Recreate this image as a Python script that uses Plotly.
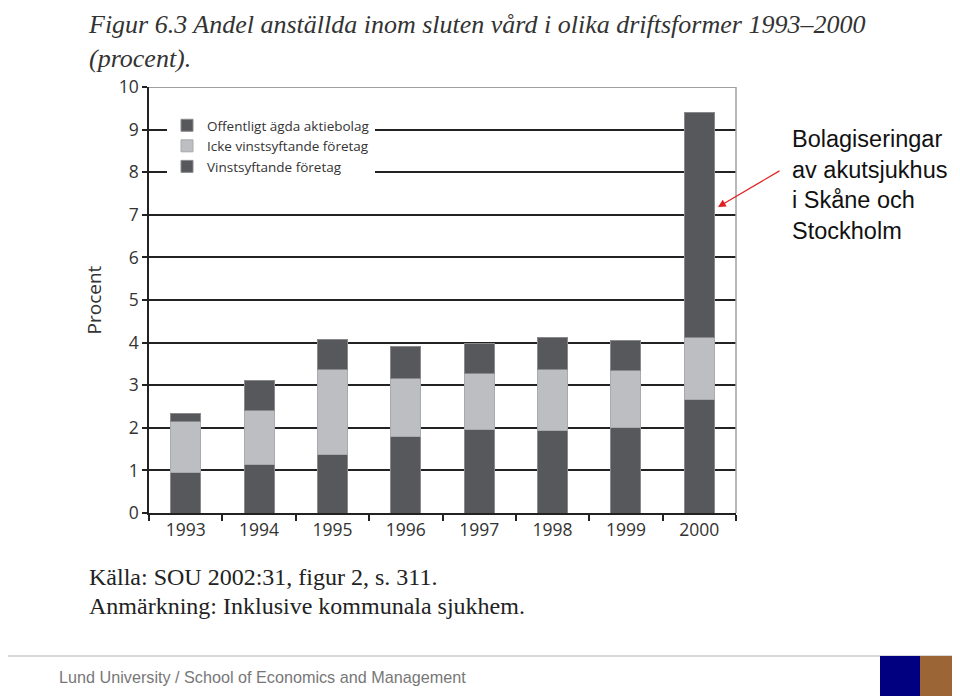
import plotly.graph_objects as go

years = ["1993", "1994", "1995", "1996", "1997", "1998", "1999", "2000"]
vinst = [0.95, 1.13, 1.38, 1.79, 1.97, 1.93, 2.00, 2.67]
icke_vinst = [1.20, 1.27, 2.00, 1.37, 1.31, 1.43, 1.35, 1.45]
offentligt_ab = [0.18, 0.71, 0.69, 0.76, 0.70, 0.76, 0.71, 5.29]
y_ticks = list(range(0, 11))

DARK = "#57585b"
LIGHT = "#bdbec1"

OFF = 8  # page body margin
W, H = 960 - OFF, 696 - OFF
# plot area in screen pixels
L, R, T, B = 149, 736, 87, 513


def xp(px):
    return (px - L) / (R - L)


def yp(py):
    return (B - py) / (B - T)


fig = go.Figure()
fig.add_trace(go.Bar(x=years, y=vinst, name="Vinstsyftande företag",
                     marker=dict(color=DARK, line=dict(color="#8a8a8c", width=1))))
fig.add_trace(go.Bar(x=years, y=icke_vinst, name="Icke vinstsyftande företag",
                     marker=dict(color=LIGHT, line=dict(color="#a9aaad", width=1))))
fig.add_trace(go.Bar(x=years, y=offentligt_ab, name="Offentligt ägda aktiebolag",
                     marker=dict(color=DARK, line=dict(color="#8a8a8c", width=1))))

tick_font = dict(family="Open Sans, DejaVu Sans, sans-serif", size=17.5, color="#333333")

fig.update_layout(
    width=W, height=H,
    margin=dict(l=L - OFF, r=W - (R - OFF), t=T - OFF, b=H - (B - OFF), pad=0),
    paper_bgcolor="white", plot_bgcolor="white",
    barmode="stack", bargap=0.59,
    showlegend=True,
    legend=dict(x=xp(167), y=yp(110), xanchor="left", yanchor="top",
                traceorder="reversed", bgcolor="white",
                font=dict(family="Open Sans, DejaVu Sans, sans-serif", size=13.5, color="#333333"),
                itemwidth=30, tracegroupgap=0),
    xaxis=dict(showline=True, linecolor="#222222", linewidth=1.5,
               ticks="outside", tickson="boundaries", ticklen=6, tickcolor="#222222",
               tickwidth=1.5, tickfont=tick_font, showgrid=False),
    yaxis=dict(range=[0, 10], tickvals=y_ticks, showline=True, linecolor="#222222",
               linewidth=1.5, ticks="outside", ticklen=5, tickcolor="#222222", tickwidth=1.5,
               showgrid=True, gridcolor="#222222", gridwidth=1.5, zeroline=False,
               tickfont=tick_font,
               title=dict(text="Procent",
                          font=dict(family="Open Sans, DejaVu Sans, sans-serif", size=19,
                                    color="#333333"),
                          standoff=12)),
    font=dict(family="Liberation Sans, Arial, sans-serif"),
)

shapes = [
    # top border at 10 (gray)
    dict(type="line", xref="paper", yref="y", x0=0, x1=1, y0=10, y1=10,
         line=dict(color="#a0a0a0", width=2), layer="above"),
    # right border (gray)
    dict(type="line", xref="paper", yref="paper", x0=1, x1=1, y0=0, y1=1,
         line=dict(color="#a0a0a0", width=1.5), layer="above"),
    # footer line
    dict(type="line", xref="paper", yref="paper", x0=xp(0), x1=xp(960), y0=yp(656), y1=yp(656),
         line=dict(color="#b0b0b0", width=1)),
    dict(type="rect", xref="paper", yref="paper", x0=xp(880), x1=xp(920), y0=yp(700), y1=yp(656),
         fillcolor="#000080", line=dict(width=0)),
    dict(type="rect", xref="paper", yref="paper", x0=xp(920), x1=xp(964), y0=yp(700), y1=yp(656),
         fillcolor="#9b6535", line=dict(width=0)),
]
fig.update_layout(shapes=shapes)

serif = "Liberation Serif, DejaVu Serif, serif"
annotations = [
    dict(text="<i>Figur 6.3 Andel anställda inom sluten vård i olika driftsformer 1993–2000</i>"
              "<br><i>(procent).</i>",
         x=xp(87), y=yp(8.5), xanchor="left", yanchor="top", align="left", borderpad=0,
         font=dict(family=serif, size=26, color="#333333")),
    dict(text="Källa: SOU 2002:31, figur 2, s. 311.",
         x=xp(87), y=yp(577), xanchor="left", yanchor="middle",
         font=dict(family=serif, size=24, color="#222222")),
    dict(text="Anmärkning: Inklusive kommunala sjukhem.",
         x=xp(87), y=yp(606), xanchor="left", yanchor="middle",
         font=dict(family=serif, size=24, color="#222222")),
    dict(text="Bolagiseringar<br>av akutsjukhus<br>i Skåne och<br>Stockholm",
         x=xp(790), y=yp(124), xanchor="left", yanchor="top", align="left",
         font=dict(family="Liberation Sans, Arial, sans-serif", size=23.5, color="#111111")),
    dict(text="Lund University / School of Economics and Management",
         x=xp(57), y=yp(677), xanchor="left", yanchor="middle",
         font=dict(family="Liberation Sans, Arial, sans-serif", size=16.2, color="#777777")),
    dict(text="", x=xp(718), y=yp(207), ax=63, ay=-37, axref="pixel", ayref="pixel",
         showarrow=True, arrowhead=2, arrowsize=1.3, arrowwidth=1.2, arrowcolor="#e02020"),
]
for a in annotations:
    a.setdefault("xref", "paper")
    a.setdefault("yref", "paper")
    a.setdefault("showarrow", False)
fig.update_layout(annotations=annotations)

fig.write_html("out.html")
